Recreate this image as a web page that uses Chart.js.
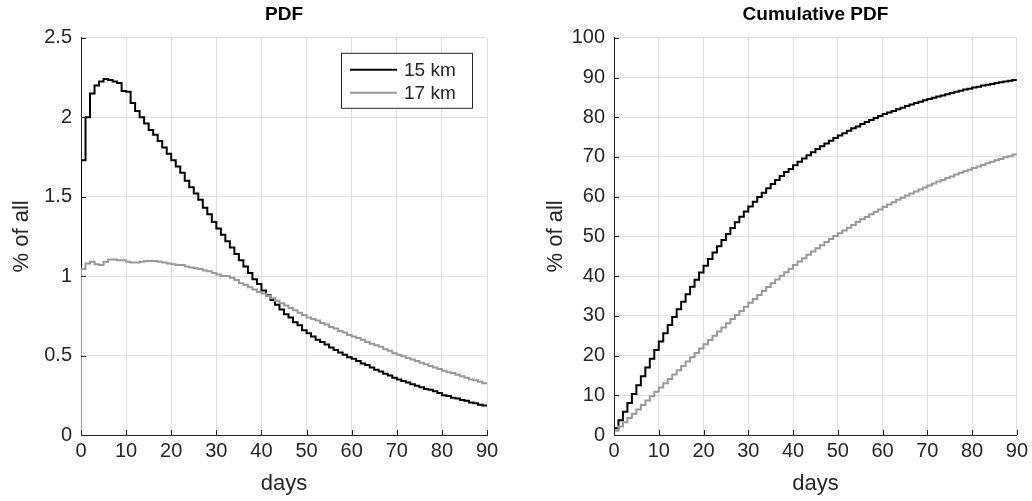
<!DOCTYPE html>
<html>
<head>
<meta charset="utf-8">
<script src="https://cdn.jsdelivr.net/npm/chart.js@4"></script>
<style>
  html, body { margin: 0; padding: 0; background: #fff; }
  #wrap { position: relative; width: 1032px; height: 501px; }
  .panel { position: absolute; top: 0; width: 516px; height: 501px; }
</style>
</head>
<body>
<div id="wrap">
  <div class="panel" style="left:0"><canvas id="pdfChart"></canvas></div>
  <div class="panel" style="left:516px"><canvas id="cumChart"></canvas></div>
</div>
<script>
// one value per 1-day bin, day 0 .. 89
var pdf15 = [1.73, 2.00, 2.15, 2.20, 2.225, 2.24, 2.235, 2.225, 2.215, 2.165,
             2.16, 2.09, 2.04, 2.00, 1.96, 1.92, 1.89, 1.85, 1.81, 1.77,
             1.73, 1.69, 1.65, 1.60, 1.56, 1.52, 1.48, 1.43, 1.39, 1.34,
             1.30, 1.26, 1.22, 1.18, 1.14, 1.10, 1.06, 1.02, 0.98, 0.95,
             0.91, 0.88, 0.85, 0.82, 0.79, 0.76, 0.74, 0.71, 0.69, 0.66,
             0.64, 0.62, 0.60, 0.585, 0.57, 0.55, 0.535, 0.52, 0.505, 0.49,
             0.48, 0.465, 0.45, 0.44, 0.425, 0.41, 0.40, 0.385, 0.375, 0.36,
             0.35, 0.34, 0.33, 0.32, 0.31, 0.30, 0.29, 0.285, 0.275, 0.265,
             0.25, 0.245, 0.235, 0.23, 0.22, 0.215, 0.205, 0.20, 0.19, 0.185];
var pdf17 = [1.045, 1.08, 1.09, 1.075, 1.07, 1.09, 1.105, 1.105, 1.10, 1.10,
             1.09, 1.085, 1.085, 1.09, 1.095, 1.095, 1.095, 1.09, 1.085, 1.08,
             1.075, 1.07, 1.07, 1.06, 1.055, 1.05, 1.045, 1.035, 1.03, 1.02,
             1.01, 1.00, 1.00, 0.99, 0.975, 0.955, 0.945, 0.93, 0.915, 0.90,
             0.89, 0.875, 0.86, 0.845, 0.83, 0.815, 0.80, 0.785, 0.77, 0.755,
             0.74, 0.73, 0.72, 0.705, 0.695, 0.68, 0.67, 0.655, 0.645, 0.63,
             0.62, 0.61, 0.60, 0.585, 0.575, 0.565, 0.555, 0.54, 0.53, 0.515,
             0.505, 0.495, 0.485, 0.475, 0.465, 0.455, 0.445, 0.435, 0.425, 0.415,
             0.405, 0.395, 0.39, 0.38, 0.37, 0.36, 0.35, 0.345, 0.335, 0.325];
var cum15 = [1.73, 3.73, 5.88, 8.08, 10.31, 12.55, 14.78, 17.01, 19.22, 21.39,
             23.55, 25.64, 27.68, 29.68, 31.64, 33.56, 35.45, 37.30, 39.11, 40.88,
             42.61, 44.30, 45.95, 47.55, 49.11, 50.63, 52.11, 53.54, 54.93, 56.27,
             57.5, 58.7, 59.9, 61.0, 62.1, 63.2, 64.2, 65.2, 66.2, 67.0,
             67.9, 68.8, 69.6, 70.4, 71.2, 72.0, 72.7, 73.4, 74.1, 74.8,
             75.4, 76.0, 76.6, 77.2, 77.7, 78.3, 78.8, 79.3, 79.8, 80.3,
             80.8, 81.2, 81.6, 82.0, 82.4, 82.8, 83.2, 83.6, 83.9, 84.3,
             84.6, 84.9, 85.2, 85.5, 85.8, 86.1, 86.4, 86.7, 87.0, 87.2,
             87.5, 87.7, 88.0, 88.2, 88.4, 88.6, 88.8, 89.0, 89.2, 89.4];
var cum17 = [1.05, 2.13, 3.22, 4.29, 5.36, 6.45, 7.56, 8.66, 9.76, 10.86,
             11.95, 13.04, 14.12, 15.21, 16.31, 17.40, 18.50, 19.59, 20.67, 21.75,
             22.83, 23.90, 24.97, 26.03, 27.08, 28.13, 29.18, 30.21, 31.24, 32.26,
             33.27, 34.27, 35.27, 36.26, 37.24, 38.19, 39.14, 40.07, 40.98, 41.88,
             42.77, 43.65, 44.51, 45.35, 46.18, 47.0, 47.8, 48.58, 49.35, 50.1,
             50.8, 51.5, 52.2, 52.9, 53.6, 54.3, 54.9, 55.6, 56.2, 56.8,
             57.4, 58.0, 58.6, 59.2, 59.7, 60.3, 60.8, 61.3, 61.8, 62.3,
             62.8, 63.3, 63.8, 64.2, 64.7, 65.1, 65.6, 66.0, 66.4, 66.8,
             67.2, 67.6, 68.0, 68.4, 68.8, 69.2, 69.5, 69.9, 70.2, 70.6];

var seriesLabels = ['15 km', '17 km'];
var xTickValues = [0, 10, 20, 30, 40, 50, 60, 70, 80, 90];
var pdfTickValues = [0, 0.5, 1, 1.5, 2, 2.5];
var cumTickValues = [0, 10, 20, 30, 40, 50, 60, 70, 80, 90, 100];

var axisColor = '#262626';
var gridColor = '#dfdfdf';
var fontFamily = '"Liberation Sans", Arial, Helvetica, sans-serif';

// stairs: each bin value held from day i to day i+1
function stairs(values, fromZero) {
    var pts = [];
    if (fromZero) pts.push({x: 0, y: 0});
    values.forEach(function (v, i) { pts.push({x: i, y: v}); });
    pts.push({x: values.length, y: values[values.length - 1]});
    return pts;
}

// MATLAB style tick marks pointing into the plot
var innerTicks = {
    id: 'innerTicks',
    afterDatasetsDraw: function (chart) {
        var ctx = chart.ctx, a = chart.chartArea;
        var xs = chart.scales.x, ys = chart.scales.y;
        ctx.save();
        ctx.strokeStyle = axisColor;
        ctx.lineWidth = 1;
        ctx.beginPath();
        xs.ticks.forEach(function (t) {
            var px = Math.round(xs.getPixelForValue(t.value)) + 0.5;
            ctx.moveTo(px, a.bottom);
            ctx.lineTo(px, a.bottom - 5);
        });
        ys.ticks.forEach(function (t) {
            var py = Math.round(ys.getPixelForValue(t.value)) + 0.5;
            ctx.moveTo(a.left, py);
            ctx.lineTo(a.left + 5, py);
        });
        ctx.stroke();
        ctx.restore();
    }
};

var boxLegend = {
    id: 'boxLegend',
    afterDraw: function (chart, args, opts) {
        if (!opts.show) return;
        var ctx = chart.ctx, a = chart.chartArea;
        var w = 131, h = 55;
        var left = a.right - 15 - w, top = a.top + 15;
        ctx.save();
        ctx.fillStyle = '#fff';
        ctx.fillRect(left, top, w, h);
        ctx.strokeStyle = axisColor;
        ctx.lineWidth = 1;
        ctx.strokeRect(left + 0.5, top + 0.5, w, h);
        ctx.font = '19px ' + fontFamily;
        ctx.textBaseline = 'middle';
        ctx.fillStyle = axisColor;
        chart.data.datasets.slice().sort(function (p, q) { return p.legendIndex - q.legendIndex; })
            .forEach(function (ds, i) {
                var y = top + 17 + i * 23;
                ctx.strokeStyle = ds.borderColor;
                ctx.lineWidth = ds.borderWidth;
                ctx.beginPath();
                ctx.moveTo(left + 9, y);
                ctx.lineTo(left + 56, y);
                ctx.stroke();
                ctx.fillText(ds.label, left + 63, y + 1);
            });
        ctx.restore();
    }
};

function makeChart(id, title, data15, data17, yMax, yTicks, leftWidth, rightPad, yTitlePad, showLegend) {
    var ctx = document.getElementById(id).getContext('2d');
    return new Chart(ctx, {
        type: 'line',
        data: {
            datasets: [{
                label: seriesLabels[1],
                legendIndex: 1,
                data: data17,
                borderColor: '#999999',
                borderWidth: 2,
                stepped: 'before',
                pointRadius: 0,
                fill: false
            }, {
                label: seriesLabels[0],
                legendIndex: 0,
                data: data15,
                borderColor: '#000000',
                borderWidth: 2,
                stepped: 'before',
                pointRadius: 0,
                fill: false
            }]
        },
        options: {
            responsive: true,
            maintainAspectRatio: false,
            animation: false,
            events: [],
            layout: { padding: { left: 0, right: rightPad, top: 0, bottom: 0 } },
            plugins: {
                legend: { display: false },
                tooltip: { enabled: false },
                title: {
                    display: true,
                    text: title,
                    fullSize: false,
                    color: '#000',
                    font: { family: fontFamily, size: 19, weight: 'bold' },
                    padding: { top: 3, bottom: 12 }
                },
                boxLegend: { show: showLegend }
            },
            scales: {
                x: {
                    type: 'linear',
                    min: 0,
                    max: 90,
                    afterBuildTicks: function (s) { s.ticks = xTickValues.map(function (v) { return {value: v}; }); },
                    afterFit: function (s) { s.height = 66; },
                    ticks: {
                        color: axisColor,
                        font: { family: fontFamily, size: 20 },
                        padding: 4,
                        maxRotation: 0,
                        callback: function (v) { return String(v); }
                    },
                    grid: { color: gridColor, drawTicks: false },
                    border: { color: axisColor, width: 1 },
                    title: {
                        display: true,
                        text: 'days',
                        color: axisColor,
                        font: { family: fontFamily, size: 22 },
                        padding: { top: 0, bottom: 4 }
                    }
                },
                y: {
                    min: 0,
                    max: yMax,
                    afterBuildTicks: function (s) { s.ticks = yTicks.map(function (v) { return {value: v}; }); },
                    afterFit: function (s) { s.width = leftWidth; },
                    ticks: {
                        color: axisColor,
                        font: { family: fontFamily, size: 20 },
                        padding: 9,
                        callback: function (v) { return String(v); }
                    },
                    grid: { color: gridColor, drawTicks: false },
                    border: { color: axisColor, width: 1 },
                    title: {
                        display: true,
                        text: '% of all',
                        color: axisColor,
                        font: { family: fontFamily, size: 22 },
                        padding: { top: yTitlePad, bottom: 0 }
                    }
                }
            }
        },
        plugins: [innerTicks, boxLegend]
    });
}

makeChart('pdfChart', 'PDF', stairs(pdf15, true), stairs(pdf17, true), 2.5, pdfTickValues, 81, 29, 9, true);
makeChart('cumChart', 'Cumulative PDF', stairs(cum15, false), stairs(cum17, false), 100, cumTickValues, 98, 13, 27, false);
</script>
</body>
</html>
